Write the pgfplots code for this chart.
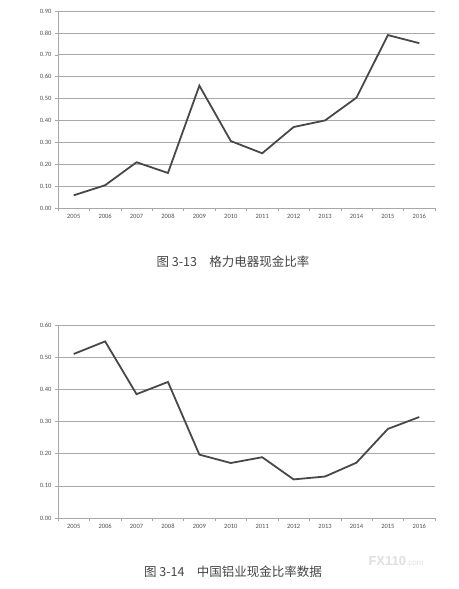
\documentclass[border=0pt]{standalone}
\usepackage{pgfplots}
\pgfplotsset{compat=1.18}
\usepackage{fontspec}
\setmainfont{Carlito}
\newfontfamily\cjk{Noto Sans CJK SC}
\newfontfamily\wm{Liberation Sans}
\definecolor{gridc}{HTML}{A8A8A8}
\definecolor{linec}{HTML}{484848}
\definecolor{labc}{HTML}{505050}
\definecolor{capc}{HTML}{444444}
\pgfplotsset{
  cashstyle/.style={
    scale only axis,
    width=377pt,
    xmin=-0.5, xmax=11.5,
    ymin=0,
    axis x line=bottom, axis y line=left,
    axis line style={gridc, -, line width=0.6pt},
    xtick={0,...,11},
    xticklabels={2005,2006,2007,2008,2009,2010,2011,2012,2013,2014,2015,2016},
    major x tick style={draw=none},
    minor xtick={-0.5,0.5,...,11.5},
    minor x tick style={gridc, line width=0.5pt},
    minor tick length=3pt,
    major tick length=3pt,
    tick align=outside,
    ytick style={gridc, line width=0.5pt},
    ymajorgrids,
    major grid style={gridc, line width=0.6pt},
    yticklabel style={/pgf/number format/.cd, fixed, fixed zerofill, precision=2, /tikz/.cd, font=\fontsize{6.5}{7.5}\selectfont, text=labc},
    xticklabel style={font=\fontsize{6.5}{7.5}\selectfont, text=labc},
    /pgf/number format/assume math mode=true,
    clip=false,
  }
}
\begin{document}
\begin{tikzpicture}
\path[use as bounding box] (0pt,0pt) rectangle (458pt,-589pt);
\begin{axis}[cashstyle, height=197pt, ymax=0.9, ytick={0,0.1,...,0.9},
  at={(58pt,-208pt)}, anchor=south west]
\addplot[linec, line width=1.8pt] coordinates {
(0,0.058) (1,0.104) (2,0.209) (3,0.160) (4,0.559) (5,0.306)
(6,0.250) (7,0.370) (8,0.400) (9,0.504) (10,0.790) (11,0.753)};
\end{axis}
\node[text=capc, font=\cjk\fontsize{12.5}{14}\selectfont] at (233pt,-262pt) {图 3-13\quad 格力电器现金比率};
\begin{axis}[cashstyle, height=193pt, ymax=0.6, ytick={0,0.1,...,0.6},
  at={(58pt,-518pt)}, anchor=south west]
\addplot[linec, line width=1.8pt] coordinates {
(0,0.510) (1,0.549) (2,0.385) (3,0.423) (4,0.197) (5,0.171)
(6,0.189) (7,0.120) (8,0.129) (9,0.172) (10,0.277) (11,0.314)};
\end{axis}
\node[text=capc, font=\cjk\fontsize{12.5}{14}\selectfont] at (233pt,-572pt) {图 3-14\quad 中国铝业现金比率数据};
\node[text=gray!25, font=\wm\bfseries\fontsize{13}{14}\selectfont, anchor=base west] at (365pt,-565pt) {FX110\fontsize{8}{9}\selectfont\mdseries.com};
\end{tikzpicture}
\end{document}
